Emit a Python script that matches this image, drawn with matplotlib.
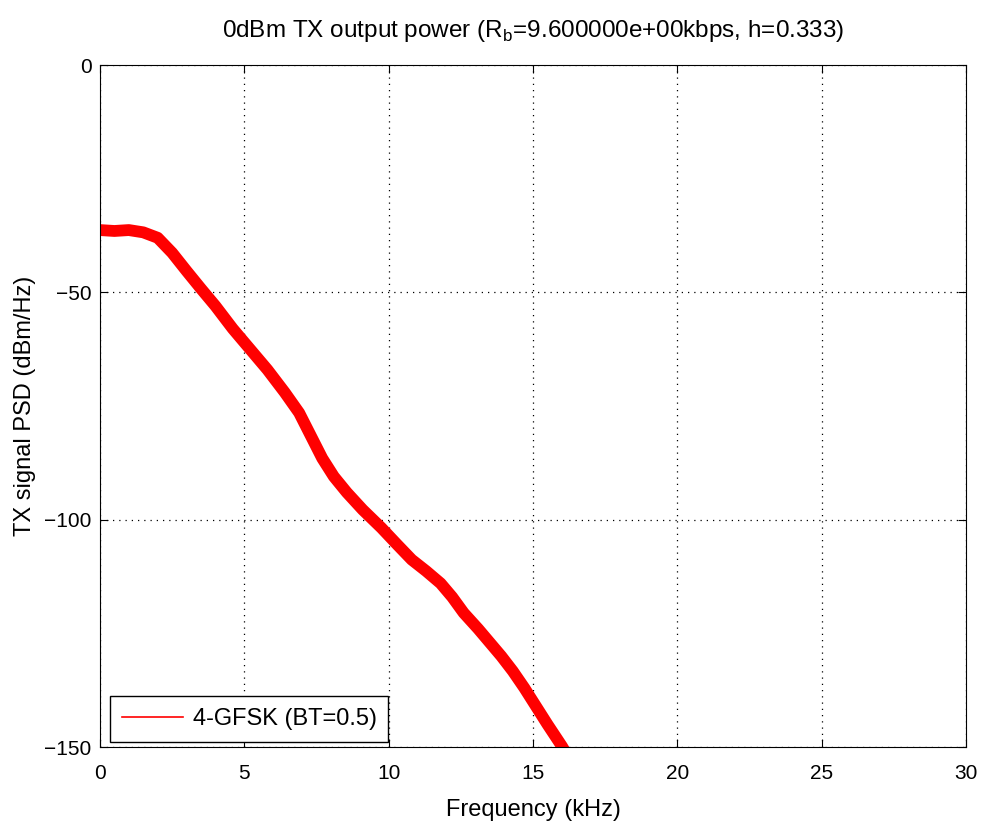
import matplotlib
matplotlib.use("Agg")
import matplotlib.pyplot as plt
from matplotlib.lines import Line2D

plt.rcParams['font.family'] = ['Liberation Sans', 'DejaVu Sans']
plt.rcParams['mathtext.fontset'] = 'custom'
plt.rcParams['mathtext.rm'] = 'Liberation Sans'

# PSD curve (kHz, dBm/Hz)
freq = [0.0, 0.5, 1.0, 1.5, 2.0, 2.5, 3.0, 3.5, 4.0, 4.6, 5.2, 5.8, 6.4,
        6.9, 7.3, 7.7, 8.1, 8.55, 9.1, 9.75, 10.3, 10.8, 11.3, 11.8, 12.2,
        12.6, 13.1, 13.5, 13.9, 14.3, 14.7, 15.1, 15.5, 16.0, 16.3]
psd = [-36.3, -36.5, -36.3, -36.8, -38.0, -41.3, -45.3, -49.2, -53.0, -58.0,
       -62.5, -67.0, -72.0, -76.5, -81.5, -86.5, -90.5, -94.0, -97.8, -101.8,
       -105.5, -108.8, -111.3, -114.0, -117.0, -120.5, -124.0, -127.0, -130.0,
       -133.3, -137.0, -141.0, -145.0, -149.8, -153.0]

x_ticks = [0, 5, 10, 15, 20, 25, 30]
y_ticks = [-150, -100, -50, 0]

fig = plt.figure(figsize=(9.82, 8.23), dpi=100)
ax = fig.add_axes([0.1018, 0.0923, 0.8819, 0.8287])

ax.plot(freq, psd, color='#ff0000', linewidth=8.5, solid_capstyle='butt',
        solid_joinstyle='round')

ax.set_xlim(0, 30)
ax.set_ylim(-150, 0)
ax.set_xticks(x_ticks)
ax.set_yticks(y_ticks)
ax.tick_params(direction='in', labelsize=15, length=6, top=True, right=True)
ax.tick_params(axis='x', pad=12)
ax.tick_params(axis='y', pad=6)
ax.grid(True, color='black', linestyle=(0, (1, 4)), linewidth=0.9)

ax.set_xlabel('Frequency (kHz)', fontsize=17, labelpad=12)
ax.set_ylabel('TX signal PSD (dBm/Hz)', fontsize=17, labelpad=6)
ax.set_title(r'0dBm TX output power (R$_\mathrm{b}$=9.600000e+00kbps, h=0.333)',
             fontsize=17.5, pad=20)

handle = Line2D([], [], color='#ff0000', linewidth=1.2)
leg = ax.legend([handle], ['4-GFSK (BT=0.5)'], loc='lower left', fontsize=17,
                bbox_to_anchor=(0.0115, 0.0073), borderaxespad=0,
                fancybox=False, edgecolor='black', framealpha=1,
                borderpad=0.5, handlelength=2.6, handletextpad=0.4)
leg.get_frame().set_linewidth(1.0)

fig.savefig('out.png', dpi=100)
